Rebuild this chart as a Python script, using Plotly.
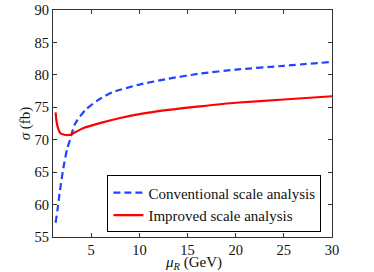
import plotly.graph_objects as go

# Conventional scale analysis (blue dashed)
x_conv = [1.3, 1.5, 1.72, 2.1, 2.5, 2.8, 3.3, 4.4, 5.7, 7.2, 10, 13, 16.3, 20, 25, 30]
y_conv = [57.2, 59.2, 61.8, 65.6, 68.6, 70.0, 72.4, 74.6, 76.1, 77.3, 78.5, 79.4, 80.2, 80.8, 81.4, 82.0]

# Improved scale analysis (red solid)
x_impr = [1.3, 1.4, 1.55, 1.8, 2.1, 2.5, 2.9, 3.4, 4.2, 6, 8, 10, 13, 16.3, 20, 25, 30]
y_impr = [74.2, 72.8, 71.8, 71.0, 70.8, 70.7, 70.8, 71.2, 71.8, 72.6, 73.35, 73.95, 74.6, 75.15, 75.7, 76.2, 76.7]

x_ticks = [5, 10, 15, 20, 25, 30]
y_ticks = [55, 60, 65, 70, 75, 80, 85, 90]

FONT = "Liberation Serif"

fig = go.Figure()
fig.add_trace(go.Scatter(
    x=x_conv, y=y_conv, mode="lines", name="Conventional scale analysis",
    line=dict(color="#2442ff", width=2.2, dash="7px,4px", shape="spline", smoothing=0.6),
))
fig.add_trace(go.Scatter(
    x=x_impr, y=y_impr, mode="lines", name="Improved scale analysis",
    line=dict(color="#ff0000", width=2.2, shape="spline", smoothing=0.6),
))

axis_common = dict(
    showline=True, linecolor="#333333", linewidth=1, mirror="ticks",
    ticks="inside", ticklen=4, tickcolor="#333333", showgrid=False, zeroline=False,
    automargin=False,
    tickfont=dict(family=FONT, size=14.5, color="#111111"),
)

fig.update_layout(
    width=374, height=272,
    margin=dict(l=52.5, r=42, t=10, b=34.5, autoexpand=False),
    paper_bgcolor="white", plot_bgcolor="white",
    font=dict(family=FONT, size=14, color="#111111"),
    showlegend=True,
    legend=dict(
        x=0.195, y=0.02, xanchor="left", yanchor="bottom",
        bgcolor="white", bordercolor="#000000", borderwidth=1,
        font=dict(family=FONT, size=15, color="#111111"),
        tracegroupgap=0,
    ),
    xaxis=dict(range=[1.03, 30], tickvals=x_ticks, **axis_common),
    yaxis=dict(range=[55, 90], tickvals=y_ticks, **axis_common),
    annotations=[
        dict(text="<i>μ</i><sub><i>R</i></sub> (GeV)", xref="paper", yref="paper",
             x=0.505, y=-0.115, xanchor="center", yanchor="middle", showarrow=False,
             font=dict(family=FONT, size=15, color="#111111")),
        dict(text="<i>σ</i> (fb)", xref="paper", yref="paper",
             x=-0.0975, y=0.5, xanchor="center", yanchor="middle", showarrow=False,
             textangle=-90, font=dict(family=FONT, size=15, color="#111111")),
    ],
)

fig.write_html(
    "out.html",
    config={"displayModeBar": False, "responsive": False},
    post_script="document.body.style.margin='0px';",
)
